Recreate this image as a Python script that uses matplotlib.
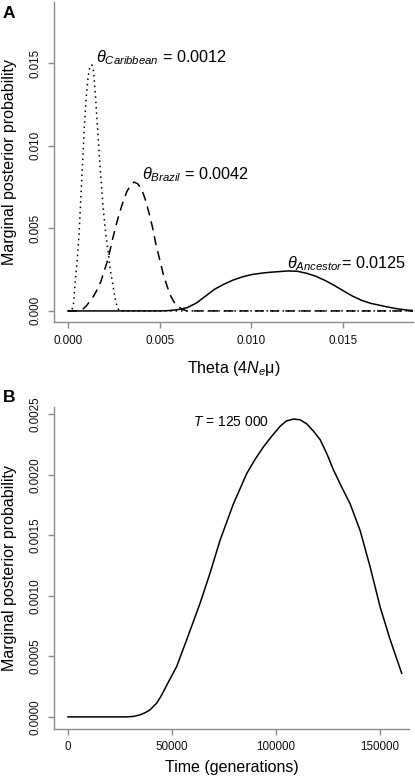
import matplotlib
matplotlib.use("Agg")
import matplotlib.pyplot as plt

plt.rcParams['font.family'] = ['Liberation Sans', 'DejaVu Sans']
plt.rcParams['mathtext.fontset'] = 'custom'
plt.rcParams['mathtext.rm'] = 'Liberation Sans'
plt.rcParams['mathtext.it'] = 'Liberation Sans:italic'
plt.rcParams['mathtext.bf'] = 'Liberation Sans:bold'

# ---- Panel A data: theta posteriors ----
carib_theta = [0.0, 0.0002, 0.0003, 0.0004, 0.0005, 0.0006, 0.0007, 0.0008, 0.0009, 0.0010,
               0.0011, 0.0012, 0.0013, 0.0014, 0.0015, 0.0016, 0.0017, 0.0018, 0.0019,
               0.0020, 0.0021, 0.0022, 0.0023, 0.0024, 0.0025, 0.0026, 0.0027, 0.0028, 0.0188]
carib_prob = [0.0, 0.0, 0.0004, 0.0018, 0.0030, 0.0045, 0.0068, 0.0090, 0.0113, 0.0130,
              0.0142, 0.0148, 0.0149, 0.0145, 0.0130, 0.0113, 0.0095, 0.0080, 0.0065,
              0.0053, 0.0043, 0.0035, 0.0025, 0.0019, 0.0012, 0.0006, 0.0002, 0.0, 0.0]

brazil_theta = [0.0, 0.0006, 0.0008, 0.0010, 0.0012, 0.0014, 0.0016, 0.0018, 0.0020, 0.0022,
                0.0024, 0.0026, 0.0028, 0.0030, 0.0032, 0.0034, 0.0036, 0.0038, 0.0040,
                0.0042, 0.0044, 0.0046, 0.0048, 0.0050, 0.0052, 0.0054, 0.0056, 0.0058,
                0.0060, 0.0062, 0.0065, 0.0188]
brazil_prob = [0.0, 0.0, 0.0001, 0.0003, 0.0006, 0.0009, 0.0013, 0.0018, 0.0025, 0.0032,
               0.0042, 0.0051, 0.0059, 0.0066, 0.0072, 0.0076, 0.0078, 0.0077, 0.0074,
               0.0068, 0.0060, 0.0051, 0.0040, 0.0031, 0.0022, 0.0015, 0.0009, 0.0005,
               0.0003, 0.0001, 0.0, 0.0]

ances_theta = [0.0, 0.0050, 0.0055, 0.0060, 0.0065, 0.0070, 0.0075, 0.0080, 0.0085, 0.0090,
               0.0095, 0.0100, 0.0105, 0.0110, 0.0115, 0.0120, 0.0125, 0.0130, 0.0135,
               0.0140, 0.0145, 0.0150, 0.0155, 0.0160, 0.0165, 0.0170, 0.0175, 0.0180,
               0.0185, 0.0188]
ances_prob = [0.0, 0.0, 0.00002, 0.00008, 0.00020, 0.00048, 0.00090, 0.00132, 0.00162, 0.00187,
              0.00206, 0.00220, 0.00228, 0.00234, 0.00238, 0.00242, 0.00240, 0.00228, 0.00210,
              0.00185, 0.00155, 0.00122, 0.00090, 0.00064, 0.00046, 0.00034, 0.00022, 0.00012,
              0.00005, 0.00002]

theta_ticks = [0.000, 0.005, 0.010, 0.015]
theta_ticklabels = ["0.000", "0.005", "0.010", "0.015"]
probA_ticks = [0.000, 0.005, 0.010, 0.015]
probA_ticklabels = ["0.000", "0.005", "0.010", "0.015"]

# ---- Panel B data: divergence time posterior ----
time_gen = [0, 28200, 31500, 34600, 37000, 39400, 42600, 45000, 47400, 52200, 57000, 63500,
            68300, 73100, 79500, 85900, 90000, 93900, 98000, 101900, 105000, 108300, 111500,
            114800, 118000, 121200, 124500, 127600, 131500, 135600, 140400, 145200, 150000,
            154800, 160400]
time_prob = [0.0, 0.0, 0.000004, 0.0000165, 0.000034, 0.000058, 0.000113, 0.00018, 0.00026,
             0.000415, 0.000635, 0.00094, 0.00119, 0.00146, 0.00176, 0.00201, 0.00213, 0.00223,
             0.00232, 0.00240, 0.002445, 0.00246, 0.002455, 0.00242, 0.00236, 0.00229, 0.00217,
             0.00204, 0.00190, 0.00176, 0.00154, 0.00124, 0.00091, 0.00064, 0.00036]

time_ticks = [0, 50000, 100000, 150000]
time_ticklabels = ["0", "50000", "100000", "150000"]
probB_ticks = [0.0, 0.0005, 0.0010, 0.0015, 0.0020, 0.0025]
probB_ticklabels = ["0.0000", "0.0005", "0.0010", "0.0015", "0.0020", "0.0025"]

W, H = 415, 778
fig = plt.figure(figsize=(W / 100, H / 100), dpi=100)

def px_axes(left, top, right, bottom):
    return fig.add_axes([left / W, 1 - bottom / H, (right - left) / W, (bottom - top) / H])

axA = px_axes(54, 2, 413, 322)
axB = px_axes(54, 407, 409, 729)

AXCOL = '#8a8a8a'

def style(ax):
    for s in ['top', 'right']:
        ax.spines[s].set_visible(False)
    for s in ['left', 'bottom']:
        ax.spines[s].set_color(AXCOL)
        ax.spines[s].set_linewidth(1.0)
    ax.tick_params(axis='both', direction='out', length=4.5, width=1.0, color=AXCOL,
                   labelsize=8.4, labelcolor='#111111', pad=4.5)
    ax.tick_params(axis='y', labelrotation=90)
    for lab in ax.get_yticklabels():
        lab.set_va('center')

lw = 1.1
axA.plot(carib_theta, carib_prob, color='black', lw=lw, linestyle=(0, (1, 2.5)))
axA.plot(brazil_theta, brazil_prob, color='black', lw=lw, linestyle=(0, (6, 4)))
axA.plot(ances_theta, ances_prob, color='black', lw=lw, linestyle='-')
axA.set_xlim(-0.00076, 0.0188)
axA.set_ylim(-0.00067, 0.0187)
axA.set_xticks(theta_ticks)
axA.set_xticklabels(theta_ticklabels)
axA.set_yticks(probA_ticks)
axA.set_yticklabels(probA_ticklabels)
style(axA)
axA.set_xlabel(r'Theta (4$N_e$μ)', fontsize=11.5, labelpad=9)
axA.set_ylabel('Marginal posterior probability', fontsize=11.5, labelpad=9)

fsA = 11.7
axA.text(0.00152, 0.01536, r'$\theta_{Caribbean}$ = 0.0012', fontsize=fsA, va='center', ha='left')
axA.text(0.00402, 0.00822, r'$\theta_{Brazil}$ = 0.0042', fontsize=fsA, va='center', ha='left')
axA.text(0.01196, 0.00284, r'$\theta_{Ancestor}$= 0.0125', fontsize=fsA, va='center', ha='left')

axB.plot(time_gen, time_prob, color='black', lw=lw)
axB.set_xlim(-6730, 163900)
axB.set_ylim(-0.0001, 0.00256)
axB.set_xticks(time_ticks)
axB.set_xticklabels(time_ticklabels)
axB.set_yticks(probB_ticks)
axB.set_yticklabels(probB_ticklabels)
style(axB)
axB.set_xlabel('Time (generations)', fontsize=11.5, labelpad=5)
axB.set_ylabel('Marginal posterior probability', fontsize=11.5, labelpad=9)
axB.text(60100, 0.002434, r'$T$ = 125 000', fontsize=10, va='center', ha='left')

fig.text(3 / W, 1 - 14 / H, 'A', fontsize=12.5, fontweight='bold', va='center', ha='left')
fig.text(3 / W, 1 - 398 / H, 'B', fontsize=12.5, fontweight='bold', va='center', ha='left')

fig.savefig('out.png', dpi=100)
